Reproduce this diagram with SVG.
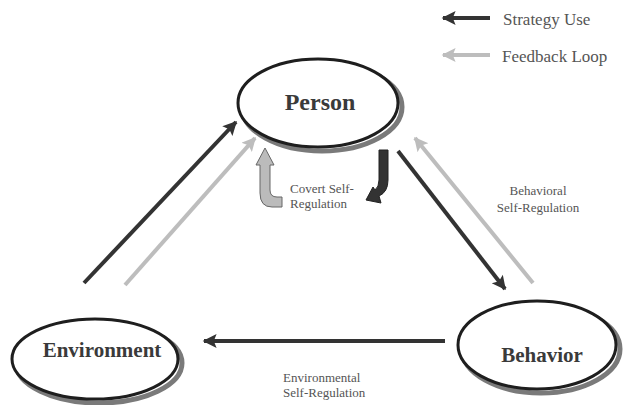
<svg xmlns="http://www.w3.org/2000/svg" width="623" height="405" viewBox="0 0 623 405">
<defs>
<style>
.shadow{fill:none;stroke:#7a7a7a;stroke-width:5}
.node{fill:#fff;stroke:#1e1e1e;stroke-width:3}
.title{font-weight:bold;fill:#3a3a3a;text-anchor:middle}
.lbl{fill:#555;font-size:13px}
.leg{fill:#555;font-size:17px}
.dark{stroke:#333;stroke-width:4;fill:none}
.light{stroke:#bdbdbd;stroke-width:4;fill:none}
</style>
<marker id="hd" viewBox="0 0 10 10" refX="9" refY="5" markerWidth="16" markerHeight="14" markerUnits="userSpaceOnUse" orient="auto"><path d="M0,0 L10,5 L0,10 L2,5 Z" fill="#333"/></marker>
<marker id="hl" viewBox="0 0 10 10" refX="9" refY="5" markerWidth="16" markerHeight="14" markerUnits="userSpaceOnUse" orient="auto"><path d="M0,0 L10,5 L0,10 L2,5 Z" fill="#bdbdbd"/></marker>
</defs>
<rect width="623" height="405" fill="#fff"/>
<g id="connectors">
<line class="dark" x1="84" y1="283" x2="236" y2="122" marker-end="url(#hd)"/>
<line class="light" x1="125" y1="285" x2="255" y2="138" marker-end="url(#hl)"/>
<line class="dark" x1="398" y1="151" x2="505" y2="289" marker-end="url(#hd)"/>
<line class="light" x1="533" y1="283" x2="415" y2="138" marker-end="url(#hl)"/>
<line class="dark" x1="445" y1="341" x2="204" y2="341" marker-end="url(#hd)"/>
<path d="M265,148 L274,165 L270,165 L270,190 Q270,197 277,197 L282,197 L282,207 L272,207 Q260,207 260,193 L260,165 L256,165 Z" fill="#bbb" stroke="#666" stroke-width="1"/>
<path d="M379,150 L388,150 L388,180 Q388,192 379,196 L381,203 L366,200 L373,187 L375,190 Q379,187 379,180 Z" fill="#333" stroke="#222" stroke-width="1"/>
</g>
<g id="labels" font-family="'Liberation Serif','Times New Roman','DejaVu Serif',serif">
<text class="lbl" x="290" y="193">Covert Self-</text>
<text class="lbl" x="290" y="208">Regulation</text>
<text class="lbl" x="538" y="195" text-anchor="middle">Behavioral</text>
<text class="lbl" x="538" y="212" text-anchor="middle">Self-Regulation</text>
<text class="lbl" x="283" y="382">Environmental</text>
<text class="lbl" x="283" y="397">Self-Regulation</text>
</g>
<g id="legend" font-family="'Liberation Serif','Times New Roman','DejaVu Serif',serif">
<line class="dark" x1="490" y1="18" x2="443" y2="18" marker-end="url(#hd)"/>
<line class="light" x1="490" y1="55" x2="443" y2="55" marker-end="url(#hl)"/>
<text class="leg" x="503" y="25">Strategy Use</text>
<text class="leg" x="502" y="62">Feedback Loop</text>
</g>
<g id="person" font-family="'Liberation Serif','Times New Roman','DejaVu Serif',serif">
<ellipse class="shadow" cx="322" cy="107" rx="80" ry="44"/>
<ellipse class="node" cx="318" cy="103" rx="80" ry="44"/>
<text class="title" x="320" y="110" font-size="24">Person</text>
</g>
<g id="environment" font-family="'Liberation Serif','Times New Roman','DejaVu Serif',serif">
<ellipse class="shadow" cx="99" cy="363" rx="83" ry="40"/>
<ellipse class="node" cx="95" cy="359" rx="83" ry="40"/>
<text class="title" x="102" y="357" font-size="21">Environment</text>
</g>
<g id="behavior" font-family="'Liberation Serif','Times New Roman','DejaVu Serif',serif">
<ellipse class="shadow" cx="541" cy="349" rx="79" ry="44"/>
<ellipse class="node" cx="537" cy="345" rx="79" ry="44"/>
<text class="title" x="542" y="362" font-size="21">Behavior</text>
</g>
</svg>
